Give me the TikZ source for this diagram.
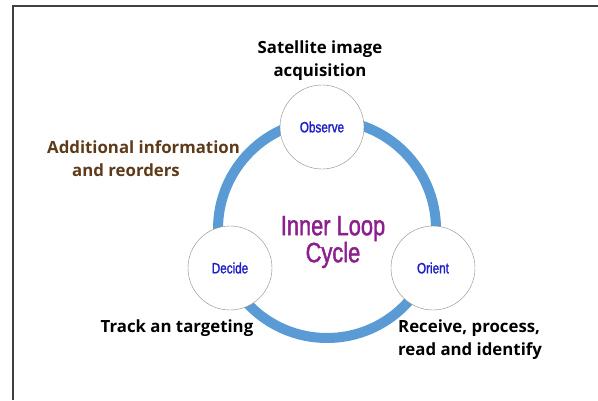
\documentclass[tikz,border=0pt]{standalone}
\usepackage{fontspec}
\setmainfont{Open Sans}
\newfontfamily\narrowfont[FakeStretch=0.78,FakeBold=1.5]{Liberation Sans}
\usetikzlibrary{positioning}
\definecolor{ringblue}{RGB}{91,155,213}
\definecolor{phaseblue}{RGB}{30,30,200}
\definecolor{notebrown}{RGB}{94,58,26}
\definecolor{loopviolet}{RGB}{140,31,140}
\tikzset{
semithick, % All lines semithick
phase/.style={draw=black!45,thin,fill=white,circle,minimum size=84pt,inner sep=0pt,
  font={\narrowfont\fontsize{15}{17}\selectfont},text=phaseblue},
note/.style={font={\bfseries\fontsize{16.8}{23}\selectfont},align=center,inner sep=0pt},
ring/.style={draw=ringblue,line width=10pt}
}
\begin{document}
\begin{tikzpicture}[x=1pt,y=-1pt]
\useasboundingbox (0,0) rectangle (598,400);
\draw[black!75,line width=1.2pt] (13,400) -- (13,6) -- (598,6);
% the loop itself
\draw[ring] (327,229) circle (109);
\node[phase] (obs) at (322,127) {Observe};
\node[phase] (dec) at (230,268) {Decide};
\node[phase] (ori) at (433,268) {Orient};
\node[font={\narrowfont\fontsize{28}{27}\selectfont},text=loopviolet,align=center] (cyc) at (333,242) {Inner Loop\\Cycle};
% what happens at each step
\node[note] (sat) at (320,61) {Satellite image\\acquisition};
\node[note,text=notebrown,align=left,anchor=west] (add) at (47,159) {Additional information\\\hspace*{25pt}and reorders};
\node[note] (trk) at (177,328) {Track an targeting};
\node[note,align=left,anchor=west] (rcv) at (398,340) {Receive, process,\\read and identify};
\end{tikzpicture}
\end{document}
